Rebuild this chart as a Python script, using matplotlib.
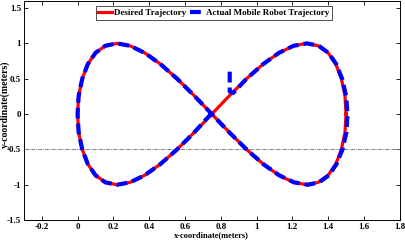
import matplotlib
matplotlib.use("Agg")
import matplotlib.pyplot as plt
from matplotlib.ticker import FuncFormatter

# desired figure-8 path
desired_x = [1.5, 1.494, 1.474, 1.443, 1.400, 1.345, 1.280, 1.207, 1.125, 1.037, 0.944, 0.848,
             0.75, 0.652, 0.556, 0.463, 0.375, 0.293, 0.220, 0.155, 0.100, 0.057, 0.026, 0.006,
             0.0, 0.006, 0.026, 0.057, 0.100, 0.155, 0.220, 0.293, 0.375, 0.463, 0.556, 0.652,
             0.75, 0.848, 0.944, 1.037, 1.125, 1.207, 1.280, 1.345, 1.400, 1.443, 1.474, 1.494, 1.5]
desired_y = [0, 0.259, 0.5, 0.707, 0.866, 0.966, 1.0, 0.966, 0.866, 0.707, 0.5, 0.259,
             0, -0.259, -0.5, -0.707, -0.866, -0.966, -1.0, -0.966, -0.866, -0.707, -0.5, -0.259,
             0, 0.259, 0.5, 0.707, 0.866, 0.966, 1.0, 0.966, 0.866, 0.707, 0.5, 0.259,
             0, -0.259, -0.5, -0.707, -0.866, -0.966, -1.0, -0.966, -0.866, -0.707, -0.5, -0.259, 0]

# actual robot path (starts at (0.85, 0.6), joins the curve, ends at the crossing)
robot_x = [0.85, 0.85, 0.85, 0.87, 0.944, 1.037, 1.125, 1.207, 1.282, 1.347, 1.402, 1.445,
           1.478, 1.500, 1.508, 1.502, 1.480, 1.447, 1.404, 1.349, 1.287, 1.209, 1.126, 1.037,
           0.944, 0.848, 0.75, 0.652, 0.556, 0.463, 0.375, 0.293, 0.22, 0.155, 0.100, 0.057,
           0.026, 0.006, 0.0, 0.006, 0.026, 0.057, 0.1, 0.155, 0.22, 0.293, 0.375, 0.463,
           0.556, 0.652, 0.745]
robot_y = [0.60, 0.45, 0.32, 0.30, 0.5, 0.707, 0.866, 0.966, 1.0, 0.966, 0.866, 0.707,
           0.5, 0.259, 0.0, -0.259, -0.5, -0.707, -0.866, -0.966, -1.0, -0.966, -0.866, -0.707,
           -0.5, -0.259, 0.0, 0.259, 0.5, 0.707, 0.866, 0.966, 1.0, 0.966, 0.866, 0.707,
           0.5, 0.259, 0.0, -0.259, -0.5, -0.707, -0.866, -0.966, -1.0, -0.966, -0.866, -0.707,
           -0.5, -0.259, 0.0]

ref_level = -0.5
x_ticks = [-0.2, 0, 0.2, 0.4, 0.6, 0.8, 1, 1.2, 1.4, 1.6, 1.8]
y_ticks = [-1.5, -1, -0.5, 0, 0.5, 1, 1.5]

plt.rcParams['font.family'] = ['Liberation Serif', 'DejaVu Serif']
plt.rcParams['font.weight'] = 'bold'

fig = plt.figure(figsize=(4.05, 2.44), dpi=100)
ax = fig.add_axes([0.059, 0.098, 0.928, 0.898])

ax.axhline(ref_level, color='#808080', lw=0.7, ls='-.', dashes=(4, 1, 1, 1))
ax.plot(desired_x, desired_y, color='#ff0000', lw=2.3, label='Desired Trajectory')
ax.plot(robot_x, robot_y, color='#0000ff', lw=3.0, ls='--', dashes=(2.6, 1.2),
        label='Actual Mobile Robot Trajectory')

ax.set_xlim(-0.3, 1.8)
ax.set_ylim(-1.5, 1.6)
ax.set_xticks(x_ticks)
ax.set_yticks(y_ticks)
fmt = FuncFormatter(lambda v, p: '%g' % round(v, 2))
ax.xaxis.set_major_formatter(fmt)
ax.yaxis.set_major_formatter(fmt)
ax.tick_params(direction='in', length=3, width=0.6, top=True, right=True,
               labelsize=6.5, pad=2)
for s in ax.spines.values():
    s.set_linewidth(0.7)

ax.set_xlabel('x-coordinate(meters)', fontsize=6, fontweight='bold', labelpad=0)
ax.set_ylabel('y-coordinate(meters)', fontsize=7, fontweight='bold')
ax.yaxis.set_label_coords(-0.036, 0.53)

leg = ax.legend(loc='upper center', ncol=2, fontsize=6.5, frameon=True, fancybox=False,
                edgecolor='black', handlelength=1.5, columnspacing=0.4, handletextpad=0.25,
                borderpad=0.3, bbox_to_anchor=(0.505, 0.975), borderaxespad=0)
leg.get_frame().set_linewidth(0.6)

fig.savefig('out.png', dpi=100)
